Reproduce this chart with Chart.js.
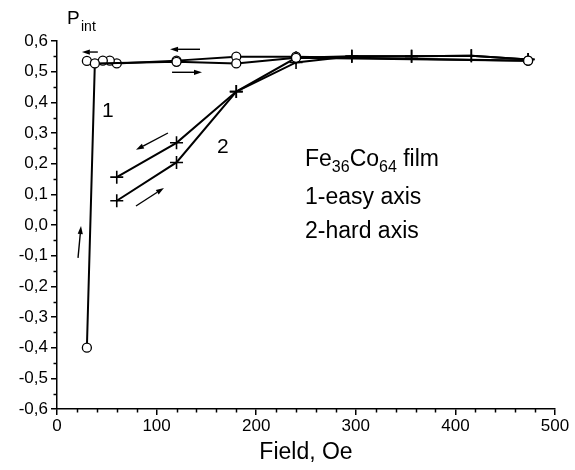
<!DOCTYPE html>
<html><head><meta charset="utf-8">
<script src="https://cdn.jsdelivr.net/npm/chart.js@4/dist/chart.umd.min.js"></script>
<style>html,body{margin:0;padding:0;background:#fff}#wrap{width:575px;height:470px}</style>
</head><body><div id="wrap"><canvas id="c" width="575" height="470"></canvas></div>
<script>
// Easy axis (curve 1), increasing field branch and decreasing field branch
const easyUpField   = [30, 38, 120, 180, 240, 473];
const easyUpP       = [-0.40, 0.527, 0.532, 0.527, 0.545, 0.536];
const easyDownField = [473, 240, 180, 120, 60, 53, 46, 30];
const easyDownP     = [0.536, 0.549, 0.549, 0.536, 0.527, 0.536, 0.536, 0.535];
// Hard axis (curve 2)
const hardUpField   = [60, 120, 180, 240, 296, 356, 416, 473];
const hardUpP       = [0.079, 0.204, 0.435, 0.530, 0.550, 0.550, 0.552, 0.540];
const hardDownField = [473, 416, 356, 296, 240, 180, 120, 60];
const hardDownP     = [0.540, 0.552, 0.550, 0.550, 0.545, 0.435, 0.268, 0.156];
const xTicks = [0, 100, 200, 300, 400, 500];
const yTicks = [-0.6, -0.5, -0.4, -0.3, -0.2, -0.1, 0.0, 0.1, 0.2, 0.3, 0.4, 0.5, 0.6];

const pts = (xs, ys) => xs.map((x, i) => ({x: x, y: ys[i]}));
const FONT = '"Liberation Sans", Arial, sans-serif';

const circleStyle = {pointStyle: 'circle', pointRadius: 4.5, pointBackgroundColor: '#fff',
  pointBorderColor: '#000', pointBorderWidth: 1.3, borderColor: '#000', borderWidth: 2, showLine: true, tension: 0};
const crossStyle = {pointStyle: 'cross', pointRadius: 6.5, pointBorderColor: '#000',
  pointBorderWidth: 1.6, borderColor: '#000', borderWidth: 2, showLine: true, tension: 0};

// annotation arrows in data units: [x0,y0,x1,y1] (head at x1,y1)
const arrows = [
  [41, 0.564, 25, 0.564],
  [143.6, 0.573, 113.5, 0.573],
  [115.5, 0.498, 145.6, 0.498],
  [111.4, 0.300, 79.3, 0.245],
  [79.3, 0.062, 107.4, 0.121],
  [21.1, -0.107, 24.1, -0.003]
];

const annot = {
  id: 'annot',
  afterDraw(chart) {
    const ctx = chart.ctx, xs = chart.scales.x, ys = chart.scales.y;
    const X = v => xs.getPixelForValue(v), Y = v => ys.getPixelForValue(v);
    ctx.save();
    ctx.strokeStyle = '#000'; ctx.fillStyle = '#000'; ctx.lineWidth = 1.5;
    // minor ticks
    for (let v = 20; v < 500; v += 20) {
      if (v % 100 === 0) continue;
      const px = Math.round(X(v)) + 0.5;
      ctx.beginPath(); ctx.moveTo(px, ys.bottom); ctx.lineTo(px, ys.bottom + 3.5); ctx.stroke();
    }
    for (let i = 0; i < yTicks.length - 1; i++) {
      const py = Math.round(Y((yTicks[i] + yTicks[i + 1]) / 2)) + 0.5;
      ctx.beginPath(); ctx.moveTo(xs.left, py); ctx.lineTo(xs.left - 3.5, py); ctx.stroke();
    }
    // arrows
    ctx.lineWidth = 1.4;
    arrows.forEach(a => {
      const x0 = X(a[0]), y0 = Y(a[1]), x1 = X(a[2]), y1 = Y(a[3]);
      const ang = Math.atan2(y1 - y0, x1 - x0), L = 8, W = 2.6;
      const bx = x1 - L * Math.cos(ang), by = y1 - L * Math.sin(ang);
      ctx.beginPath(); ctx.moveTo(x0, y0); ctx.lineTo(bx, by); ctx.stroke();
      ctx.beginPath(); ctx.moveTo(x1, y1);
      ctx.lineTo(bx + W * Math.sin(ang), by - W * Math.cos(ang));
      ctx.lineTo(bx - W * Math.sin(ang), by + W * Math.cos(ang));
      ctx.closePath(); ctx.fill();
    });
    // texts
    ctx.textBaseline = 'alphabetic'; ctx.textAlign = 'left';
    ctx.font = '19px ' + FONT;
    ctx.fillText('P', 67, 24);
    ctx.font = '14px ' + FONT;
    ctx.fillText('int', 81, 31);
    ctx.font = '21px ' + FONT;
    ctx.fillText('1', 102, 117);
    ctx.fillText('2', 217, 153);
    let x = 305;
    ctx.font = '23px ' + FONT; ctx.fillText('Fe', x, 166); x += ctx.measureText('Fe').width;
    ctx.font = '16px ' + FONT; ctx.fillText('36', x, 172); x += ctx.measureText('36').width;
    ctx.font = '23px ' + FONT; ctx.fillText('Co', x, 166); x += ctx.measureText('Co').width;
    ctx.font = '16px ' + FONT; ctx.fillText('64', x, 172); x += ctx.measureText('64').width;
    ctx.font = '23px ' + FONT; ctx.fillText(' film', x, 166);
    ctx.fillText('1-easy axis', 305, 204);
    ctx.fillText('2-hard axis', 305, 238);
    ctx.restore();
  }
};

new Chart(document.getElementById('c'), {
  type: 'scatter',
  data: {datasets: [
    Object.assign({data: pts(easyUpField, easyUpP)}, circleStyle),
    Object.assign({data: pts(easyDownField, easyDownP)}, circleStyle),
    Object.assign({data: pts(hardUpField, hardUpP)}, crossStyle),
    Object.assign({data: pts(hardDownField, hardDownP)}, crossStyle)
  ]},
  options: {
    responsive: false, animation: false, devicePixelRatio: 1,
    layout: {padding: {top: 41, right: 20, left: 0, bottom: 0}},
    plugins: {legend: {display: false}, tooltip: {enabled: false}},
    clip: false,
    scales: {
      x: {
        type: 'linear', min: 0, max: 500,
        afterBuildTicks: s => { s.ticks = xTicks.map(v => ({value: v})); },
        afterFit: s => { s.height = 61; },
        ticks: {color: '#000', font: {family: FONT, size: 17}, padding: 1, maxRotation: 0},
        grid: {drawOnChartArea: false, tickLength: 6, color: '#000', lineWidth: 1.5},
        border: {display: true, color: '#000', width: 1.5},
        title: {display: true, text: 'Field, Oe', color: '#000', font: {family: FONT, size: 23}, padding: {top: 0}}
      },
      y: {
        type: 'linear', min: -0.6, max: 0.6,
        afterBuildTicks: s => { s.ticks = yTicks.map(v => ({value: v})); },
        afterFit: s => { s.width = 57; },
        ticks: {color: '#000', font: {family: FONT, size: 17}, padding: 3,
          callback: v => (Math.abs(v) < 1e-9 ? 0 : v).toFixed(1).replace('.', ',')},
        grid: {drawOnChartArea: false, tickLength: 6, color: '#000', lineWidth: 1.5},
        border: {display: true, color: '#000', width: 1.5}
      }
    }
  },
  plugins: [annot]
});
</script></body></html>
